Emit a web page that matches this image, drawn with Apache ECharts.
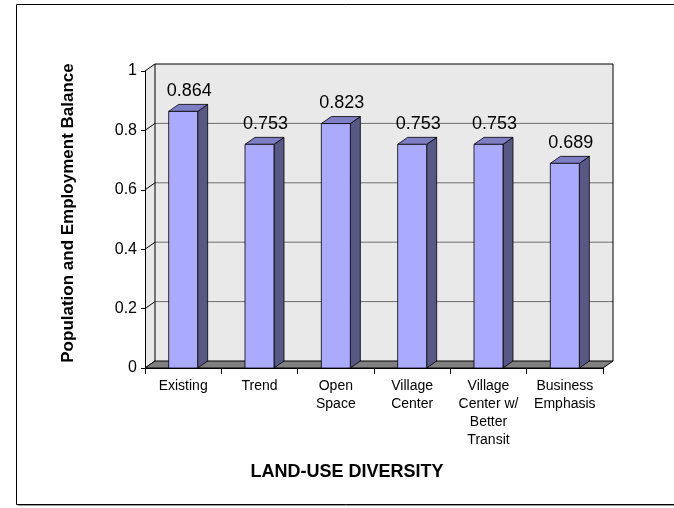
<!DOCTYPE html>
<html>
<head>
<meta charset="utf-8">
<script src="https://cdn.jsdelivr.net/npm/echarts@6/dist/echarts.min.js"></script>
<style>
  html, body { margin: 0; padding: 0; background: #fff; }
  #chart { width: 674px; height: 508px; }
</style>
</head>
<body>
<div id="chart"></div>
<script>
// Land-use diversity scenarios and their population/employment balance index
const categories = ['Existing', 'Trend', 'Open\nSpace', 'Village\nCenter', 'Village\nCenter w/\nBetter\nTransit', 'Business\nEmphasis'];
const balance = [0.864, 0.753, 0.823, 0.753, 0.753, 0.689];
const valueTicks = [0, 0.2, 0.4, 0.6, 0.8, 1];
const yAxisTitle = 'Population and Employment Balance';
const xAxisTitle = 'LAND-USE DIVERSITY';

// pseudo-3D depth offset of the plot box and of each column
const DX = 10, DY = -7;
const FONT = '"Liberation Sans", Arial, sans-serif';

const chart = echarts.init(document.getElementById('chart'), null, { renderer: 'canvas' });

// Back wall, side wall, floor and their grid lines
function renderWalls(params, api) {
  const cs = params.coordSys;
  const x0 = cs.x, x1 = cs.x + cs.width;
  const yTop = api.coord([0, valueTicks[valueTicks.length - 1]])[1];
  const yBase = api.coord([0, 0])[1];
  const children = [];
  // back wall
  children.push({ type: 'rect', shape: { x: x0 + DX, y: yTop + DY, width: x1 - x0, height: yBase - yTop },
    style: { fill: '#e9e9e9', stroke: null } });
  // left side wall
  children.push({ type: 'polygon', shape: { points: [[x0, yTop], [x0 + DX, yTop + DY], [x0 + DX, yBase + DY], [x0, yBase]] },
    style: { fill: '#e9e9e9', stroke: null } });
  // grid lines on the back wall and the side wall
  valueTicks.forEach(v => {
    const y = api.coord([0, v])[1];
    if (v > 0 && v < 1) {
      children.push({ type: 'line', shape: { x1: x0 + DX, y1: y + DY, x2: x1 + DX, y2: y + DY },
        style: { stroke: '#6e6e6e', lineWidth: 1 } });
    }
    children.push({ type: 'line', shape: { x1: x0, y1: y, x2: x0 + DX, y2: y + DY },
      style: { stroke: '#000', lineWidth: 1 } });
  });
  // floor
  children.push({ type: 'polygon', shape: { points: [[x0, yBase], [x0 + DX, yBase + DY], [x1 + DX, yBase + DY], [x1, yBase]] },
    style: { fill: '#808080', stroke: '#000', lineWidth: 1 } });
  // wall outline
  children.push({ type: 'polyline', shape: { points: [[x0 + DX, yBase + DY], [x0 + DX, yTop + DY], [x1 + DX, yTop + DY], [x1 + DX, yBase + DY]] },
    style: { fill: null, stroke: '#000', lineWidth: 1 } });
  return { type: 'group', children };
}

// 3D-looking columns with the value printed above
function renderColumn(params, api) {
  const idx = api.value(0);
  const val = api.value(1);
  const top = api.coord([idx, val]);
  const base = api.coord([idx, 0]);
  const w = api.size([1, 0])[0] * 0.38;
  const l = top[0] - w / 2, r = top[0] + w / 2;
  const yt = top[1], yb = base[1];
  return {
    type: 'group',
    children: [
      { type: 'polygon', shape: { points: [[r, yt], [r + DX, yt + DY], [r + DX, yb + DY], [r, yb]] },
        style: { fill: '#585884', stroke: '#000', lineWidth: 0.8 } },
      { type: 'polygon', shape: { points: [[l, yt], [l + DX, yt + DY], [r + DX, yt + DY], [r, yt]] },
        style: { fill: '#7e7ec4', stroke: '#000', lineWidth: 0.8 } },
      { type: 'rect', shape: { x: l, y: yt, width: w, height: yb - yt },
        style: { fill: '#aaaaff', stroke: '#000', lineWidth: 0.8 } },
      { type: 'text', x: top[0] + 6, y: yt + DY - 13.5,
        style: { text: val.toFixed(3), font: '18px ' + FONT, fill: '#000', align: 'center', verticalAlign: 'middle' } }
    ]
  };
}

const option = {
  animation: false,
  backgroundColor: '#ffffff',
  grid: { left: 145, right: 71, top: 71, bottom: 140 },
  xAxis: {
    type: 'category',
    data: categories,
    boundaryGap: true,
    axisLine: { show: true, lineStyle: { color: '#000', width: 1 } },
    axisTick: { show: true, length: 6, lineStyle: { color: '#000' } },
    axisLabel: { interval: 0, margin: 9, color: '#000', fontFamily: FONT, fontSize: 14, lineHeight: 18, align: 'center' },
    z: 5
  },
  yAxis: {
    type: 'value',
    min: 0, max: 1, interval: 0.2,
    axisLine: { show: true, lineStyle: { color: '#000', width: 1 } },
    axisTick: { show: true, length: 4, lineStyle: { color: '#000' } },
    axisLabel: { margin: 8, color: '#000', fontFamily: FONT, fontSize: 16 },
    splitLine: { show: false },
    z: 5
  },
  series: [
    { type: 'custom', renderItem: renderWalls, data: [[0, 0]], z: 1, silent: true, clip: false },
    { type: 'custom', renderItem: renderColumn,
      data: balance.map((v, i) => [i, v]), encode: { x: 0, y: 1 }, z: 2, clip: false }
  ],
  graphic: [
    // chart frame with its shadow edge
    { type: 'rect', z: -10, shape: { x: 16.5, y: 4.5, width: 700, height: 500 },
      style: { fill: '#fff', stroke: '#000', lineWidth: 1 } },
    { type: 'line', z: -11, shape: { x1: 18, y1: 505.5, x2: 700, y2: 505.5 },
      style: { stroke: '#9a9a9a', lineWidth: 1 } },
    { type: 'text', x: 68, y: 213, rotation: Math.PI / 2,
      style: { text: yAxisTitle, font: 'bold 17px ' + FONT, fill: '#000', align: 'center', verticalAlign: 'middle' } },
    { type: 'text', x: 347, y: 472,
      style: { text: xAxisTitle, font: 'bold 18px ' + FONT, fill: '#000', align: 'center', verticalAlign: 'middle' } }
  ]
};

chart.setOption(option);
</script>
</body>
</html>
